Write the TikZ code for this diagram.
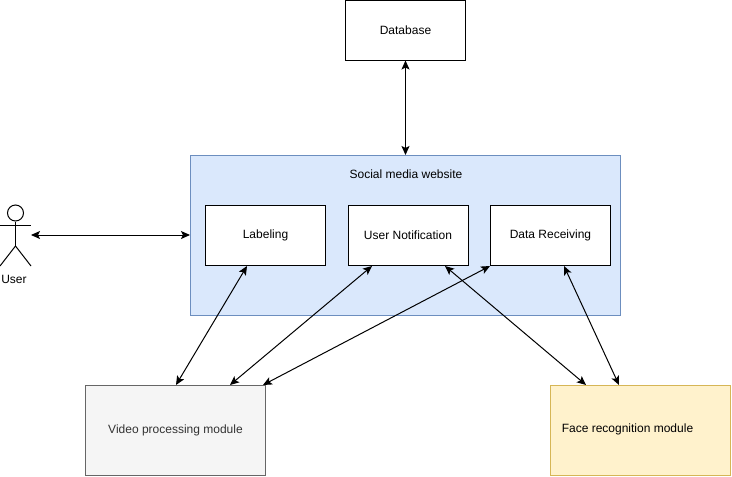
\documentclass[tikz,border=0pt]{standalone}
\usepackage{fontspec}
\setmainfont{Liberation Sans}
\usetikzlibrary{arrows.meta}

\definecolor{webfill}{HTML}{DAE8FC}
\definecolor{webline}{HTML}{6C8EBF}
\definecolor{videofill}{HTML}{F5F5F5}
\definecolor{videoline}{HTML}{666666}
\definecolor{facefill}{HTML}{FFF2CC}
\definecolor{faceline}{HTML}{D6B656}

\tikzset{
  box/.style={draw=black,fill=white,minimum width=120pt,minimum height=60pt,inner sep=0pt,line width=1pt,font=\fontsize{12}{14}\selectfont},
  module/.style={box,minimum width=180pt,minimum height=90pt},
  link/.style={{Stealth[length=9pt,width=8pt,inset=2pt]}-{Stealth[length=9pt,width=8pt,inset=2pt]},line width=1pt},
  txt/.style={inner sep=0pt,font=\fontsize{12}{14}\selectfont},
}

\begin{document}
\begin{tikzpicture}[x=1pt,y=-1pt]
\useasboundingbox (0,0) rectangle (732,477);

% containers
\node[box,draw=webline,fill=webfill,minimum width=430pt,minimum height=160pt] (website) at (405.5,235.5){};
\node[txt] (websitetxt) at (406,174){Social media website};

% boxes
\node[box] (database) at (405.5,30){Database};
\node[box] (labeling) at (265.5,235.5){Labeling\hspace{2pt}};
\node[box] (notification) at (408,235.5){User Notification};
\node[box] (receiving) at (550.5,235.5){Data Receiving\hspace{2pt}};
\node[module,draw=videoline,fill=videofill,text=black!80] (video) at (175.5,430.5){Video processing module\hspace{1pt}};
\node[module,draw=faceline,fill=facefill] (face) at (640.5,430.5){};
\node[txt] (facetxt) at (627.5,429.5){Face recognition module};

% actor
\node[draw,circle,minimum size=16pt,inner sep=0pt,line width=1pt] (head) at (15.5,213){};
\coordinate (hip) at (15.5,246);
\coordinate (hand) at (31,235);
\draw[line width=1pt] (head) -- (hip);
\draw[line width=1pt] (0,225) -- (31,225);
\draw[line width=1pt] (0,266) -- (hip) -- (31,266);
\node[txt] (user) at (14,279){User};

% arrows
\draw[link] (hand) -- (website.west |- hand);
\draw[link] (database) -- (website);
\draw[link] ([xshift=-18.5pt]labeling.south) -- ([xshift=0.5pt]video.north);
\draw[link] ([xshift=-36pt]notification.south) -- ([xshift=54.5pt]video.north);
\draw[link] (receiving.south west) -- ([xshift=87.5pt]video.north);
\draw[link] ([xshift=37pt]notification.south) -- ([xshift=-54.5pt]face.north);
\draw[link] ([xshift=13.5pt]receiving.south) -- ([xshift=-21.5pt]face.north);
\end{tikzpicture}
\end{document}
